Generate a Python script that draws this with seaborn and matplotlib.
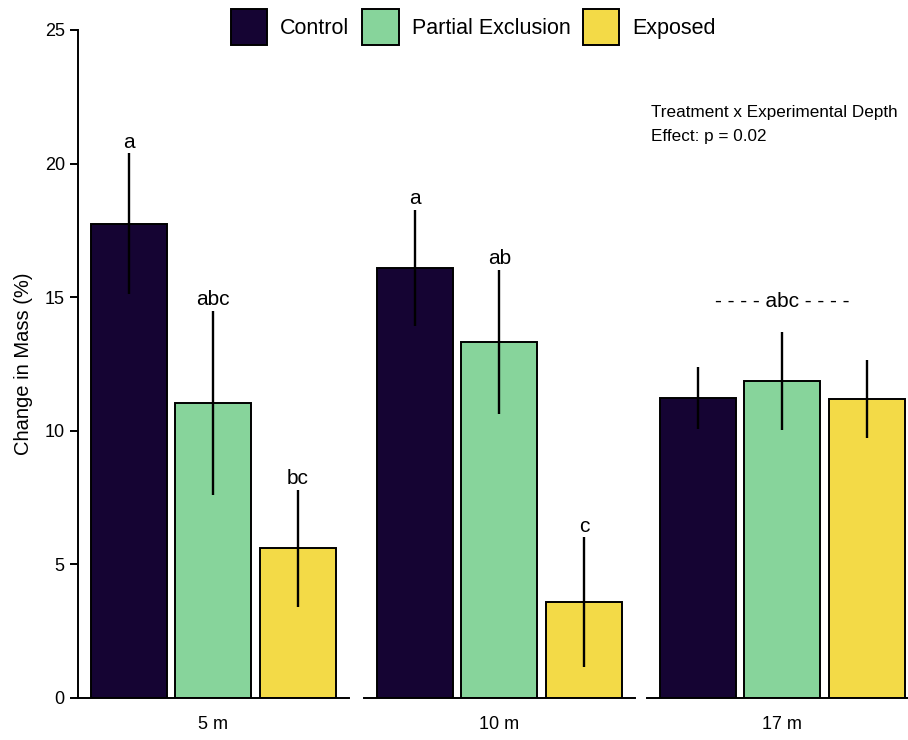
import matplotlib
matplotlib.use("Agg")
import matplotlib.pyplot as plt
from matplotlib.patches import Patch
import seaborn as sns
import pandas as pd

# Treatments and depths
treatments = ["Control", "Partial Exclusion", "Exposed"]
depths = ["5 m", "10 m", "17 m"]

# Mean change in mass (%) per depth, ordered as treatments
mass_5m = [17.74, 11.04, 5.61]
mass_10m = [16.09, 13.32, 3.59]
mass_17m = [11.23, 11.86, 11.19]

# Error bar half-widths
err_5m = [2.64, 3.46, 2.19]
err_10m = [2.17, 2.71, 2.42]
err_17m = [1.16, 1.84, 1.46]

# Significance groupings
letters_5m = ["a", "abc", "bc"]
letters_10m = ["a", "ab", "c"]
letter_17m = "- - - - abc - - - -"
letter_17m_y = 14.63

colors = ["#150433", "#87d49b", "#f3da47"]

sns.set_theme(style="ticks")
plt.rcParams["font.family"] = ["Liberation Sans", "DejaVu Sans"]
plt.rcParams.update({
    "text.color": "black",
    "axes.labelcolor": "black",
    "xtick.color": "black",
    "ytick.color": "black",
    "axes.edgecolor": "black",
})

df = pd.DataFrame({
    "depth": [d for d in depths for _ in treatments],
    "treatment": treatments * 3,
    "mass": mass_5m + mass_10m + mass_17m,
    "err": err_5m + err_10m + err_17m,
})

fig = plt.figure(figsize=(9.08, 7.40), dpi=100)
bottom, height = 0.0568, 0.9027
lefts = [0.0859, 0.4009, 0.7126]
width = 0.298
axes = [fig.add_axes([l, bottom, width, height]) for l in lefts]

letter_sets = [letters_5m, letters_10m, None]

for i, (ax, depth) in enumerate(zip(axes, depths)):
    sub = df[df["depth"] == depth]
    sns.barplot(data=sub, x="treatment", y="mass", hue="treatment",
                order=treatments, hue_order=treatments, palette=colors,
                saturation=1, width=0.9, edgecolor="black", linewidth=1.4,
                errorbar=None, legend=False, ax=ax)
    ax.errorbar(range(len(treatments)), sub["mass"].values,
                yerr=sub["err"].values, fmt="none", ecolor="black",
                elinewidth=1.7, capsize=0, zorder=5)
    ax.set_xlim(-0.6, 2.6)
    ax.set_ylim(0, 25)
    ax.set_xticks([])
    ax.set_xlabel(depth, fontsize=13, labelpad=13)
    ax.spines["top"].set_visible(False)
    ax.spines["right"].set_visible(False)
    ax.spines["bottom"].set_linewidth(1.4)
    if i == 0:
        ax.set_ylabel("Change in Mass (%)", fontsize=14.5)
        ax.yaxis.set_label_coords(-0.165, 0.5)
        ax.set_yticks([0, 5, 10, 15, 20, 25])
        ax.tick_params(axis="y", labelsize=13, length=5.5, width=1.4, pad=4)
        ax.spines["left"].set_linewidth(1.4)
    else:
        ax.set_ylabel("")
        ax.set_yticks([])
        ax.spines["left"].set_visible(False)

    tops = (sub["mass"] + sub["err"]).values
    if letter_sets[i] is not None:
        for j, lab in enumerate(letter_sets[i]):
            ax.text(j, tops[j] + 0.22, lab, ha="center", va="baseline",
                    fontsize=15)
    else:
        ax.text(1, letter_17m_y, letter_17m, ha="center", va="baseline",
                fontsize=15)

fig.text(651 / 908, 1 - 124.5 / 740,
         "Treatment x Experimental Depth\nEffect: p = 0.02",
         ha="left", va="center", fontsize=12.3, linespacing=1.75)

handles = [Patch(facecolor=c, edgecolor="black", linewidth=1.4) for c in colors]
fig.legend(handles, treatments, loc="center", bbox_to_anchor=(0.5215, 1 - 27 / 740),
           ncol=3, frameon=False, fontsize=15.5, handlelength=1.68,
           handleheight=2.15, handletextpad=0.6, columnspacing=0.6,
           borderpad=0)

fig.savefig("out.png", dpi=100)
